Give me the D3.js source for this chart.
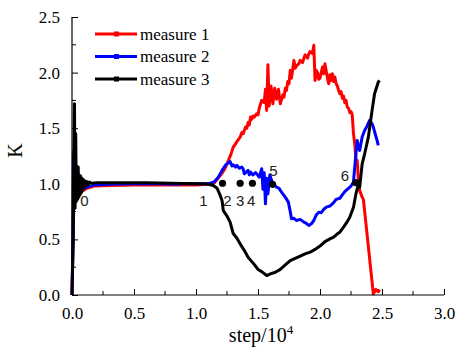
<!DOCTYPE html>
<html>
<head>
<meta charset="utf-8">
<script src="https://cdn.jsdelivr.net/npm/d3@7"></script>
<style>
  body { margin: 0; background: #fff; }
  svg { display: block; }
</style>
</head>
<body>
<div id="chart"></div>
<script>
// [step/10^4, K]
const measure1 = [[0,0],[0.008,0.5],[0.012,1.3],[0.016,0.83],[0.03,0.85],[0.05,0.89],[0.08,0.93],[0.12,0.96],[0.18,0.98],[0.3,0.985],[0.5,0.99],[0.7,0.99],[0.9,0.99],[1.0,0.99],[1.1,0.995],[1.15,1.01],[1.2,1.08],[1.23,1.13],[1.25,1.18],[1.28,1.26],[1.3,1.33],[1.32,1.36],[1.33,1.38],[1.356,1.42],[1.37,1.46],[1.38,1.45],[1.4,1.51],[1.41,1.5],[1.42,1.55],[1.43,1.53],[1.44,1.6],[1.45,1.58],[1.46,1.61],[1.47,1.6],[1.49,1.63],[1.5,1.62],[1.51,1.68],[1.53,1.75],[1.55,1.73],[1.56,1.85],[1.57,1.66],[1.58,2.07],[1.59,1.7],[1.605,1.88],[1.62,1.72],[1.635,1.86],[1.65,1.76],[1.665,1.85],[1.68,1.72],[1.7,1.8],[1.71,1.78],[1.72,1.86],[1.73,1.84],[1.74,1.92],[1.75,1.9],[1.76,2.02],[1.77,1.95],[1.79,2.11],[1.8,2.04],[1.81,2.06],[1.83,2.08],[1.84,2.11],[1.86,2.09],[1.87,2.13],[1.88,2.16],[1.9,2.13],[1.91,2.17],[1.92,2.19],[1.94,2.17],[1.95,2.245],[1.96,1.93],[1.97,2.02],[1.98,2.0],[1.99,1.94],[2.0,1.95],[2.02,2.05],[2.03,1.99],[2.04,2.08],[2.06,1.95],[2.07,1.9],[2.08,1.98],[2.09,1.93],[2.1,1.99],[2.11,1.92],[2.12,1.96],[2.13,1.9],[2.14,1.88],[2.15,1.84],[2.16,1.81],[2.17,1.83],[2.18,1.77],[2.19,1.79],[2.2,1.73],[2.21,1.75],[2.22,1.69],[2.23,1.68],[2.24,1.64],[2.25,1.65],[2.26,1.62],[2.27,1.45],[2.28,1.36],[2.29,1.22],[2.3,1.21],[2.31,1.03],[2.32,0.94],[2.34,0.88],[2.35,0.86],[2.43,0.01],[2.45,0.05],[2.47,0.03],[2.48,0.05]];

const measure2 = [[0,0],[0.008,0.5],[0.012,1.25],[0.016,0.86],[0.03,0.88],[0.05,0.91],[0.08,0.95],[0.12,0.97],[0.18,0.99],[0.3,0.995],[0.5,1.0],[0.7,1.0],[0.85,0.995],[0.9,1.0],[1.0,1.0],[1.1,1.0],[1.15,1.02],[1.18,1.06],[1.21,1.12],[1.24,1.17],[1.275,1.2],[1.29,1.16],[1.3,1.17],[1.32,1.15],[1.33,1.165],[1.35,1.14],[1.37,1.15],[1.38,1.135],[1.39,1.09],[1.4,1.1],[1.42,1.12],[1.43,1.08],[1.44,1.105],[1.46,1.08],[1.48,1.1],[1.49,1.09],[1.51,1.06],[1.53,1.135],[1.54,0.95],[1.55,1.1],[1.56,0.82],[1.57,1.05],[1.58,0.91],[1.595,1.08],[1.61,1.03],[1.62,0.98],[1.63,0.99],[1.65,0.97],[1.67,0.96],[1.68,0.94],[1.7,0.91],[1.72,0.88],[1.745,0.835],[1.76,0.75],[1.77,0.685],[1.79,0.69],[1.81,0.67],[1.84,0.68],[1.87,0.655],[1.89,0.645],[1.91,0.625],[1.93,0.64],[1.95,0.67],[1.97,0.72],[1.99,0.745],[2.01,0.74],[2.03,0.77],[2.05,0.79],[2.08,0.8],[2.11,0.83],[2.13,0.86],[2.16,0.87],[2.18,0.9],[2.2,0.93],[2.22,0.95],[2.25,0.98],[2.27,1.015],[2.28,1.15],[2.3,1.39],[2.31,1.33],[2.32,1.3],[2.34,1.42],[2.36,1.48],[2.38,1.52],[2.4,1.57],[2.42,1.54],[2.43,1.51],[2.45,1.43],[2.46,1.39],[2.47,1.345]];

const measure3 = [[0,0],[0.01,0.5],[0.015,1.2],[0.02,1.72],[0.025,0.78],[0.03,1.45],[0.035,0.84],[0.04,1.16],[0.045,0.86],[0.05,1.15],[0.055,0.88],[0.06,1.08],[0.065,0.9],[0.07,1.07],[0.075,0.92],[0.08,1.05],[0.085,0.94],[0.09,1.04],[0.095,0.96],[0.1,1.03],[0.11,0.98],[0.12,1.02],[0.13,0.99],[0.14,1.015],[0.16,1.005],[0.2,1.01],[0.4,1.01],[0.6,1.01],[0.8,1.005],[1.0,1.0],[1.06,1.0],[1.1,0.995],[1.14,0.985],[1.17,0.96],[1.19,0.91],[1.21,0.85],[1.22,0.76],[1.25,0.71],[1.275,0.655],[1.3,0.553],[1.33,0.51],[1.356,0.46],[1.39,0.4],[1.42,0.34],[1.45,0.3],[1.477,0.265],[1.5,0.23],[1.53,0.21],[1.57,0.175],[1.6,0.19],[1.64,0.205],[1.68,0.23],[1.72,0.27],[1.76,0.31],[1.8,0.33],[1.84,0.35],[1.88,0.37],[1.92,0.385],[1.96,0.41],[2.0,0.44],[2.04,0.48],[2.08,0.505],[2.11,0.52],[2.14,0.55],[2.16,0.565],[2.19,0.61],[2.22,0.66],[2.24,0.7],[2.27,0.79],[2.29,0.91],[2.31,1.0],[2.32,0.97],[2.34,1.18],[2.36,1.27],[2.39,1.42],[2.42,1.66],[2.44,1.81],[2.47,1.915],[2.48,1.93]];

const seriesNames = ['measure 1', 'measure 2', 'measure 3'];
const seriesColors = ['#ff0000', '#0000ff', '#000000'];

// marked states on the curves
const dotSteps = [1.214, 1.356, 1.455, 1.617, 2.29];
const dotK = [1.005, 1.005, 1.005, 0.995, 1.01];
const labelText = ['0', '1', '2', '3', '4', '5', '6'];
const labelStep = [0.1, 1.06, 1.254, 1.356, 1.445, 1.625, 2.2];
const labelK = [0.85, 0.85, 0.85, 0.85, 0.85, 1.12, 1.075];

const xTicks = [0, 0.5, 1.0, 1.5, 2.0, 2.5, 3.0];
const yTicks = [0, 0.5, 1.0, 1.5, 2.0, 2.5];

const width = 456, height = 353;
const margin = {left: 72, right: 12, top: 17, bottom: 58};

const svg = d3.select('#chart').append('svg')
  .attr('width', width)
  .attr('height', height);

const x = d3.scaleLinear().domain([0, 3]).range([margin.left, width - margin.right]);
const y = d3.scaleLinear().domain([0, 2.5]).range([height - margin.bottom, margin.top]);

const serif = '"Liberation Serif", "Times New Roman", serif';

// lines
const line = d3.line().x(d => x(d[0])).y(d => y(d[1]));
[measure1, measure2, measure3].forEach((data, i) => {
  svg.append('path')
    .datum(data)
    .attr('fill', 'none')
    .attr('stroke', seriesColors[i])
    .attr('stroke-width', 3)
    .attr('stroke-linejoin', 'round')
    .attr('d', line);
});

// axes, ticks inside
const minorX = d3.range(0.25, 3, 0.5);
const minorY = d3.range(0.25, 2.5, 0.5);

const xAxis = svg.append('g').attr('transform', `translate(0,${y(0)})`);
xAxis.call(d3.axisBottom(x).tickValues(xTicks).tickSize(-6).tickPadding(12).tickFormat(d3.format('.1f')));
xAxis.selectAll('g.minor').data(minorX).enter().append('line')
  .attr('x1', d => x(d)).attr('x2', d => x(d))
  .attr('y1', 0).attr('y2', -4)
  .attr('stroke', '#000');

const yAxis = svg.append('g').attr('transform', `translate(${x(0)},0)`);
yAxis.call(d3.axisLeft(y).tickValues(yTicks).tickSize(-6).tickPadding(12).tickFormat(d3.format('.1f')));
yAxis.selectAll('g.minor').data(minorY).enter().append('line')
  .attr('x1', 0).attr('x2', 4)
  .attr('y1', d => y(d)).attr('y2', d => y(d))
  .attr('stroke', '#000');

[xAxis, yAxis].forEach(a => {
  a.select('.domain').attr('stroke', '#000').attr('stroke-width', 1.2);
  a.selectAll('.tick line').attr('stroke', '#000');
  a.selectAll('.tick text')
    .attr('font-family', serif)
    .attr('font-size', 17)
    .attr('fill', '#000');
});
xAxis.select('.domain').attr('d', `M${x(0)},0H${x(3)}`);
yAxis.select('.domain').attr('d', `M0,${y(0)}V${y(2.5)}`);

// axis titles
svg.append('text')
  .attr('transform', `translate(22,${y(1.3)}) rotate(-90)`)
  .attr('text-anchor', 'middle')
  .attr('font-family', serif)
  .attr('font-size', 20)
  .text('K');

const xt = svg.append('text')
  .attr('x', x(1.5) + 3)
  .attr('y', 342)
  .attr('text-anchor', 'middle')
  .attr('font-family', serif)
  .attr('font-size', 20);
xt.append('tspan').text('step/10');
xt.append('tspan').attr('dy', -8).attr('font-size', 13).text('4');

// dots and labels
svg.selectAll('circle.state')
  .data(dotSteps)
  .enter().append('circle')
  .attr('class', 'state')
  .attr('cx', d => x(d))
  .attr('cy', (d, i) => y(dotK[i]))
  .attr('r', 3.6)
  .attr('fill', '#000');

svg.selectAll('text.state')
  .data(labelText)
  .enter().append('text')
  .attr('class', 'state')
  .attr('x', (d, i) => x(labelStep[i]))
  .attr('y', (d, i) => y(labelK[i]))
  .attr('dy', '0.36em')
  .attr('text-anchor', 'middle')
  .attr('font-family', '"Liberation Sans", Arial, sans-serif')
  .attr('font-size', 15)
  .attr('fill', '#222')
  .text(d => d);

// legend
const legend = svg.append('g');
seriesNames.forEach((name, i) => {
  const ly = 34 + i * 22.5;
  legend.append('line')
    .attr('x1', 95).attr('x2', 137)
    .attr('y1', ly).attr('y2', ly)
    .attr('stroke', seriesColors[i])
    .attr('stroke-width', 3);
  legend.append('rect')
    .attr('x', 114).attr('y', ly - 2.5)
    .attr('width', 5).attr('height', 5)
    .attr('fill', seriesColors[i]);
  legend.append('text')
    .attr('x', 140).attr('y', ly)
    .attr('dy', '0.33em')
    .attr('font-family', serif)
    .attr('font-size', 17)
    .text(name);
});
</script>
</body>
</html>
